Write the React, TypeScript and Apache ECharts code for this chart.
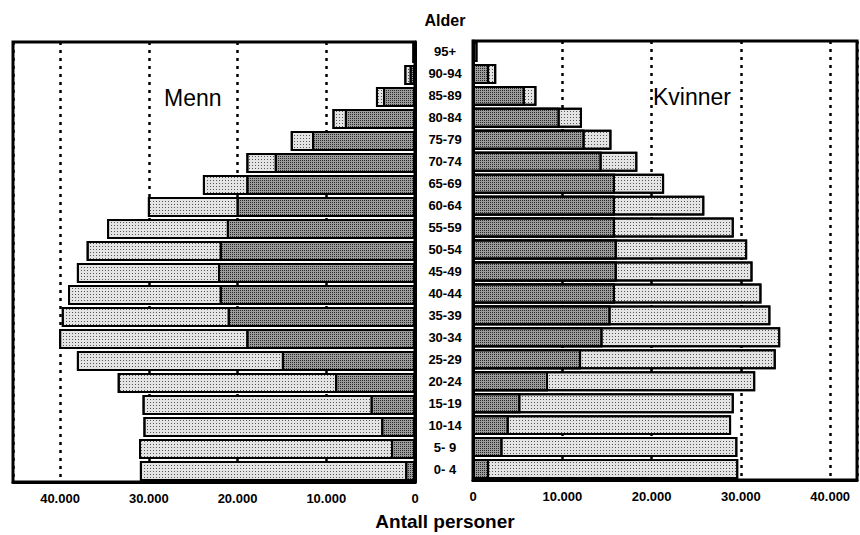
import React, { useEffect, useRef } from "react";
import * as echarts from "echarts";

const ageGroups = ["0- 4", "5- 9", "10-14", "15-19", "20-24", "25-29", "30-34", "35-39", "40-44", "45-49", "50-54", "55-59", "60-64", "65-69", "70-74", "75-79", "80-84", "85-89", "90-94", "95+"];

// Menn: total (light bar) and inner (dark bar)
const mennTotal = [31000, 31100, 30600, 30700, 33500, 38100, 40100, 39800, 39100, 38100, 37000, 34700, 30100, 23900, 19000, 14000, 9300, 4400, 1200, 300];
const mennInner = [1100, 2700, 3800, 5000, 9000, 15000, 19000, 21100, 22000, 22200, 22000, 21200, 20100, 19000, 15800, 11600, 7900, 3600, 600, 100];

// Kvinner
const kvinnerTotal = [29700, 29600, 28900, 29200, 31600, 33900, 34400, 33300, 32300, 31300, 30700, 29200, 25900, 21400, 18400, 15500, 12200, 7100, 2600, 500];
const kvinnerInner = [1800, 3300, 4000, 5300, 8400, 12100, 14500, 15400, 15900, 16100, 16100, 15900, 15900, 15900, 14400, 12500, 9700, 5800, 1800, 200];

const xTicks = [0, 10000, 20000, 30000, 40000];

const FONT = "'Liberation Sans', Arial, Helvetica, sans-serif";

const fmt = (v: number) => (v === 0 ? "0" : `${v / 1000}.000`);

export default function App() {
  const ref = useRef<HTMLDivElement>(null);
  useEffect(() => {
    if (!ref.current) return;
    const chart = echarts.init(ref.current, null, { renderer: "svg" });
    const lightStyle = {
      color: "#e4e4e4",
      borderColor: "#000",
      borderWidth: 2,
      decal: { symbol: "rect", symbolSize: 1, dashArrayX: [1, 2], dashArrayY: [1, 2], color: "#555" },
    };
    const darkStyle = {
      color: "#9c9c9c",
      borderColor: "#000",
      borderWidth: 2,
      decal: { symbol: "rect", symbolSize: 1, dashArrayX: [1, 1], dashArrayY: [1, 1], color: "#2a2a2a" },
    };
    const xAxisCommon = {
      type: "value",
      min: 0,
      interval: 10000,
      axisLine: { show: true, lineStyle: { color: "#000", width: 3 } },
      axisTick: { show: false },
      axisLabel: {
        color: "#000",
        fontFamily: FONT,
        fontWeight: "bold",
        fontSize: 13,
        margin: 10,
        formatter: (v: number) => (xTicks.includes(v) ? fmt(v) : ""),
      },
      splitLine: { show: true, lineStyle: { color: "#000", width: 2.5, type: [3, 5] } },
    };
    chart.setOption({
      animation: false,
      backgroundColor: "#fff",
      grid: [
        { left: 13, right: 445, top: 42, bottom: 53, show: true, borderColor: "#000", borderWidth: 3, backgroundColor: "transparent" },
        { left: 473, right: -4, top: 41, bottom: 55, show: true, borderColor: "#000", borderWidth: 3, backgroundColor: "transparent" },
      ],
      xAxis: [
        { ...xAxisCommon, gridIndex: 0, inverse: true, max: 45300 },
        { ...xAxisCommon, gridIndex: 1, max: 43000 },
      ],
      yAxis: [
        {
          gridIndex: 0,
          type: "category",
          data: ageGroups,
          position: "right",
          axisLine: { show: true, lineStyle: { color: "#000", width: 3 } },
          axisTick: { show: false },
          axisLabel: { show: false },
        },
        {
          gridIndex: 1,
          type: "category",
          data: ageGroups,
          position: "left",
          axisLine: { show: true, lineStyle: { color: "#000", width: 3 } },
          axisTick: { show: false },
          axisLabel: {
            show: true,
            align: "center",
            margin: 28,
            color: "#000",
            fontFamily: FONT,
            fontWeight: "bold",
            fontSize: 13,
          },
        },
      ],
      series: [
        { name: "Menn total", type: "bar", xAxisIndex: 0, yAxisIndex: 0, data: mennTotal, barWidth: "91%", barGap: "-100%", itemStyle: lightStyle },
        { name: "Menn inner", type: "bar", xAxisIndex: 0, yAxisIndex: 0, data: mennInner, barWidth: "91%", barGap: "-100%", itemStyle: darkStyle },
        { name: "Kvinner total", type: "bar", xAxisIndex: 1, yAxisIndex: 1, data: kvinnerTotal, barWidth: "91%", barGap: "-100%", itemStyle: lightStyle },
        { name: "Kvinner inner", type: "bar", xAxisIndex: 1, yAxisIndex: 1, data: kvinnerInner, barWidth: "91%", barGap: "-100%", itemStyle: darkStyle },
      ],
      graphic: [
        { type: "text", x: 445, y: 20, style: { text: "Alder", font: `bold 16px ${FONT}`, fill: "#000", align: "center", verticalAlign: "middle" } },
        { type: "text", x: 445, y: 521, style: { text: "Antall personer", font: `bold 19px ${FONT}`, fill: "#000", align: "center", verticalAlign: "middle" } },
        { type: "text", x: 164, y: 98, style: { text: "Menn", font: `23px ${FONT}`, fill: "#000", verticalAlign: "middle" } },
        { type: "text", x: 653, y: 97, style: { text: "Kvinner", font: `23px ${FONT}`, fill: "#000", verticalAlign: "middle" } },
      ],
    });
    return () => chart.dispose();
  }, []);
  return <div ref={ref} style={{ width: 860, height: 535, position: "absolute", left: 0, top: 0 }} />;
}
